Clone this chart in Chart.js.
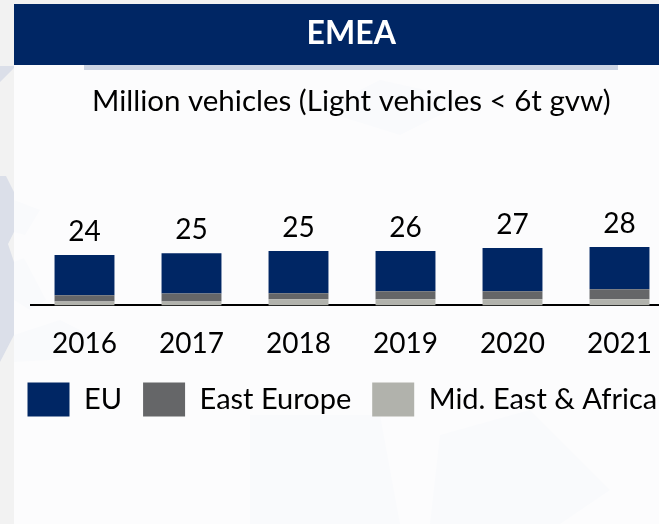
<!DOCTYPE html>
<html><head><meta charset="utf-8">
<style>
html,body{margin:0;padding:0;width:659px;height:524px;overflow:hidden;background:#fcfcfd}
#wrap{position:relative;width:659px;height:524px;overflow:hidden}
#bg{position:absolute;left:0;top:0}
#box{position:absolute;left:0;top:0;width:696px;height:524px}
</style>
<script src="https://cdn.jsdelivr.net/npm/chart.js@4"></script>
</head><body><div id="wrap">
<svg id="bg" width="659" height="524">
<rect x="0" y="0" width="659" height="4" fill="#f2f2f2"/>
<rect x="0" y="0" width="14" height="524" fill="#f2f2f2"/>
<path d="M0 82L14 68L14 66L0 66ZM0 176L6 176L14 192L14 232L8 244L14 262L14 335L0 362Z" fill="#dbdfe9"/>
<path d="M14 200L40 210L25 235L14 232ZM14 262L24 258L46 300L30 310L14 300ZM14 335L60 320L100 340L50 360L14 362Z M250 415L380 415L400 524L250 524Z M440 435L530 410L610 490L560 524L430 524Z M380 80L470 100L400 135L320 110Z" fill="#f9fafc"/>
</svg>
<div id="box"><canvas id="c" width="696" height="524"></canvas></div>
</div>
<script>
const categories = ["2016","2017","2018","2019","2020","2021"];
const midEastAfrica = [1.9,1.9,2.9,2.9,2.9,2.9];
const eastEurope = [2.9,3.8,2.9,3.8,3.8,4.8];
const eu = [19.2,19.2,20.2,19.2,20.7,20.2];
const totalLabels = ["24","25","25","26","27","28"];
const FONT = "Lato, 'Open Sans', sans-serif";

const stackLabels = {
  id:"stackLabels",
  afterDatasetsDraw(chart){
    const top = chart.getDatasetMeta(2).data, ctx = chart.ctx;
    ctx.save();
    ctx.fillStyle="#000";ctx.font="28px "+FONT;ctx.textAlign="center";ctx.textBaseline="middle";
    top.forEach((b,i)=>ctx.fillText(totalLabels[i],b.x,b.y-23));
    ctx.restore();
  }
};
const header = {
  id:"header",
  beforeDraw(chart){
    const ctx=chart.ctx;
    ctx.save();
    ctx.fillStyle="#ccd4e3";ctx.fillRect(84,65,534,5);
    ctx.fillStyle="#002664";ctx.fillRect(14,4,682,61);
    ctx.restore();
  }
};
new Chart(document.getElementById("c"),{
  type:"bar",
  data:{labels:categories,datasets:[
    {label:"Mid. East & Africa",data:midEastAfrica,backgroundColor:"#b1b2ac"},
    {label:"East Europe",data:eastEurope,backgroundColor:"#656668"},
    {label:"EU",data:eu,backgroundColor:"#002664"}
  ]},
  options:{
    responsive:false,animation:false,
    layout:{padding:{left:6.5,right:0,top:0,bottom:97.5}},
    datasets:{bar:{barPercentage:0.56,categoryPercentage:1}},
    plugins:{
      tooltip:{enabled:false},
      title:{display:true,text:"EMEA",color:"#fff",font:{family:FONT,size:32,weight:"bold"},padding:{top:14,bottom:0},align:"center"},
      subtitle:{display:true,text:"Million vehicles (Light vehicles < 6t gvw)",color:"#000",font:{family:FONT,size:29.5,weight:"normal"},padding:{top:31,bottom:0}},
      legend:{position:"bottom",align:"start",reverse:true,
        labels:{boxWidth:42,boxHeight:34,padding:21,color:"#000",font:{family:FONT,size:29}}}
    },
    scales:{
      x:{stacked:true,grid:{display:false,drawTicks:false},border:{color:"#000",width:2},
        ticks:{color:"#000",font:{family:FONT,size:28},padding:22,maxRotation:0},afterFit(s){s.height-=21.5}},
      y:{stacked:true,min:0,max:89,display:true,grid:{display:false,drawTicks:false},border:{display:false},
        ticks:{display:false},afterFit(s){s.width=24.5}},
      pad:{type:"linear",position:"right",display:true,grid:{display:false,drawTicks:false},border:{display:false},
        ticks:{display:false},afterFit(s){s.width=23}}
    }
  },
  plugins:[header,stackLabels]
});
</script></body></html>
